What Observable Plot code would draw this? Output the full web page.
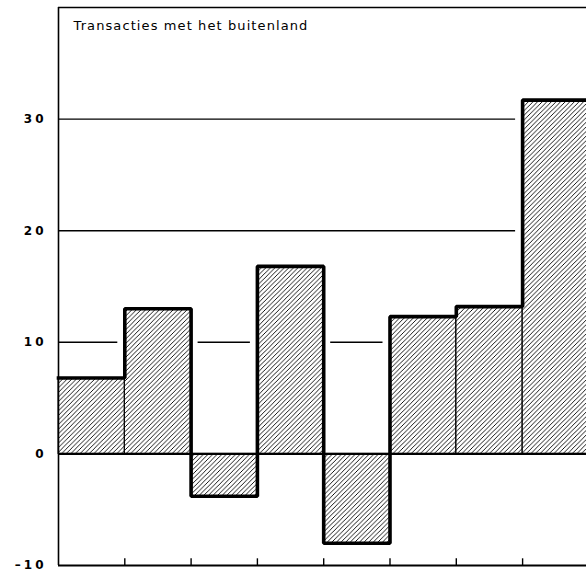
<!DOCTYPE html>
<html><head><meta charset="utf-8">
<script src="https://cdn.jsdelivr.net/npm/d3@7"></script>
<script src="https://cdn.jsdelivr.net/npm/@observablehq/plot@0.6"></script>
<style>body{margin:0;background:#fff}</style>
</head><body><div id="chart"></div>
<script>
const title = "Transacties met het buitenland";
const values = [6.8, 13.0, -3.8, 16.8, -8.0, 12.3, 13.2, 31.7];
const yTicks = [-10, 0, 10, 20, 30];
const gridValues = [10, 20, 30];
const yDomain = [-10, 40];

const bars = values.map((v, i) => ({i, v}));
const steps = values.map((v, i) => ({x: i, y: v})).concat([{x: values.length, y: values[values.length - 1]}]);
const boundaries = d3.range(1, values.length);

const chart = Plot.plot({
  width: 586,
  height: 572,
  marginLeft: 58,
  marginRight: 0,
  marginTop: 7,
  marginBottom: 7,
  style: {fontFamily: "DejaVu Sans, sans-serif", background: "white"},
  x: {domain: [0, 528 / 66.3], axis: null},
  y: {domain: yDomain, axis: null},
  marks: [
    Plot.ruleY(gridValues, {stroke: "black", strokeWidth: 1.4}),
    Plot.rect(bars, {x1: "i", x2: d => d.i + 1, y1: 0, y2: "v", fill: "white", stroke: "white", strokeWidth: 14}),
    Plot.rect(bars, {x1: "i", x2: d => d.i + 1, y1: 0, y2: "v", fill: "url(#hatch)", stroke: "black", strokeWidth: 1}),
    Plot.ruleY([0], {stroke: "black", strokeWidth: 2.2}),
    Plot.line(steps, {x: "x", y: "y", curve: "step-after", stroke: "black", strokeWidth: 3.6, strokeLinejoin: "miter", strokeLinecap: "square"}),
    Plot.ruleX([0], {stroke: "black", strokeWidth: 1.6}),
    Plot.ruleY([yDomain[1]], {stroke: "black", strokeWidth: 1.6}),
    Plot.ruleY([yDomain[0]], {stroke: "black", strokeWidth: 1.8}),
    Plot.ruleX(boundaries, {y1: yDomain[0], y2: yDomain[0] + 0.6, stroke: "black", strokeWidth: 1.4}),
    Plot.axisY({ticks: yTicks, tickSize: 0, tickPadding: 12, fontSize: 12, fontWeight: "bold",
      tickFormat: d => d < 0 ? "\u2013" + Math.abs(d) : String(d)}),
    Plot.text([title], {frameAnchor: "top-left", dx: 15, dy: 13, fontSize: 13, fill: "black", textAnchor: "start", lineAnchor: "top"})
  ]
});

const svgNS = "http://www.w3.org/2000/svg";
const defs = document.createElementNS(svgNS, "defs");
defs.innerHTML = `<pattern id="hatch" patternUnits="userSpaceOnUse" width="4.6" height="4.6">
  <path d="M-1.15,1.15 L1.15,-1.15 M0,4.6 L4.6,0 M3.45,5.75 L5.75,3.45" stroke="black" stroke-width="0.9"/>
</pattern>`;
chart.insertBefore(defs, chart.firstChild);
chart.querySelectorAll("g[aria-label='y-axis tick label'] text").forEach(el => el.style.letterSpacing = "3px");
chart.querySelectorAll("g[aria-label='text'] text").forEach(el => { el.style.letterSpacing = "1.1px"; el.style.fontWeight = "500"; });
document.getElementById("chart").appendChild(chart);
</script>
</body></html>
